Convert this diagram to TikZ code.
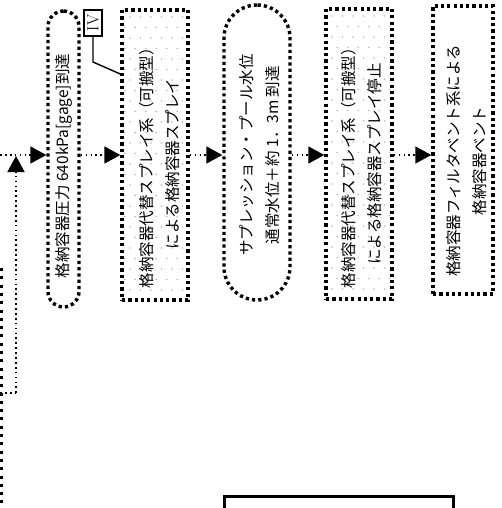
\documentclass[tikz,border=0pt]{standalone}
\usepackage{fontspec}
\newfontfamily\jp{Noto Sans CJK JP}
\usetikzlibrary{arrows.meta}
\begin{document}
\begin{tikzpicture}[x=1pt,y=-1pt,
  bd/.style={draw, line width=3.4pt, dash pattern=on 3.2pt off 3.1pt, inner sep=0pt, rectangle},
  txt/.style={rotate=90, align=center, inner sep=0pt, font=\jp\fontsize{15.5}{26}\selectfont},
  arr/.style={line width=1.7pt, dash pattern=on 1.7pt off 3.2pt, -{Triangle[length=16pt,width=17pt]}},
  thin/.style={line width=1.7pt, dash pattern=on 1.7pt off 3.2pt},
  dotc/.style={fill=black!28}
]
\useasboundingbox (0,0) rectangle (502,508);
% nodes (shapes)
\node[bd, rounded corners=15.5pt, minimum width=31pt, minimum height=296pt] (n1) at (63.5,159) {};
\node[bd, minimum width=66pt, minimum height=290pt] (n2) at (155,155) {};
\node[bd, rounded corners=33pt, minimum width=66pt, minimum height=295pt] (n3) at (257,152.5) {};
\node[bd, minimum width=66pt, minimum height=290pt] (n4) at (359,154) {};
\node[bd, minimum width=60pt, minimum height=288pt] (n5) at (463,150) {};
% dot fills
\begin{scope}
\clip (123.5,11.5) rectangle (186.5,298.5);
\foreach \i in {0,...,6} \foreach \j in {0,...,27}
  \fill[dotc] ({124+6+10.5*\i-5.25*mod(\j,2)},{10+7+10.5*\j}) circle (0.9pt);
\end{scope}
\begin{scope}
\clip (327.5,10.5) rectangle (390.5,297.5);
\foreach \i in {0,...,6} \foreach \j in {0,...,27}
  \fill[dotc] ({326+6+10.5*\i-5.25*mod(\j,2)},{9+7+10.5*\j}) circle (0.9pt);
\end{scope}
% redraw borders on top of dots
\node[bd, minimum width=66pt, minimum height=290pt] at (n2) {};
\node[bd, minimum width=66pt, minimum height=290pt] at (n4) {};
% texts
\node[txt] (t1) at (64,166) {格納容器圧力 640kPa[gage]到達};
\node[txt] (t2) at (159,164) {格納容器代替スプレイ系（可搬型）\\による格納容器スプレイ};
\node[txt] (t3) at (260,155) {サプレッション・プール水位\\通常水位＋約 1．3m 到達};
\node[txt] (t4) at (361,164) {格納容器代替スプレイ系（可搬型）\\による格納容器スプレイ停止};
\node[txt] (t5) at (467,161) {格納容器フィルタベント系による\\格納容器ベント};
% IV label
\node[draw, line width=1.4pt, minimum width=18pt, minimum height=26pt, inner sep=0pt] (iv) at (93,23) {\rotatebox{90}{\fontsize{16}{16}\selectfont IV}};
\coordinate (k1) at (93,62);
\coordinate (k2) at (0,74);
\draw[line width=1.4pt] (iv.south) -- (k1) -- (n2.west |- k2);
% arrows
\coordinate (ya) at (0,155);
\draw[arr] (ya) -- (n1.west |- ya);
\draw[arr] (n1.east |- ya) -- (n2.west |- ya);
\draw[arr] (n2.east |- ya) -- (n3.west |- ya);
\draw[arr] (n3.east |- ya) -- (n4.west |- ya);
\draw[arr] (n4.east |- ya) -- (n5.west |- ya);
% feedback loop
\coordinate (c1) at (0,393);
\coordinate (c2) at (16,393);
\coordinate (c3) at (16,156);
\draw[thin] (c1) -- (c2);
\draw[arr] (c2) -- (c3);
\coordinate (d1) at (1.2,268);
\coordinate (d2) at (1.2,510);
\draw[line width=3pt, dash pattern=on 3pt off 5.3pt] (d1) -- (d2);
% bottom box
\node[draw, line width=3pt, minimum width=229pt, minimum height=40pt, anchor=north west, inner sep=0pt] (b) at (223,495) {};
\end{tikzpicture}
\end{document}
